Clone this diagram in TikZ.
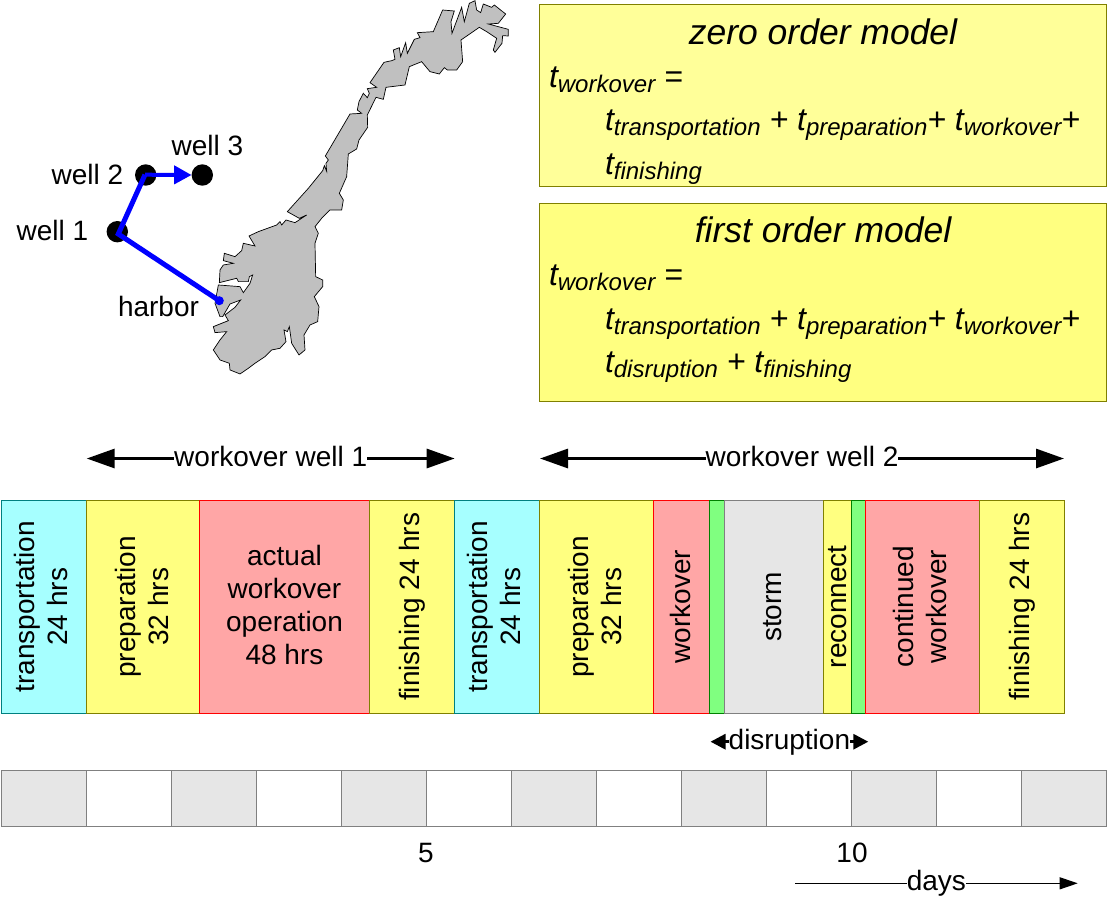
\documentclass[tikz,border=0pt]{standalone}
\usepackage{fontspec}
\setmainfont{Liberation Sans}
\usetikzlibrary{arrows.meta}

\definecolor{modeltop}{HTML}{FFFF99}
\definecolor{modellow}{HTML}{FFFF80}
\definecolor{modeledge}{HTML}{808000}
\definecolor{transfill}{HTML}{A6FFFF}
\definecolor{transedge}{HTML}{008080}
\definecolor{workfill}{HTML}{FFA6A6}
\definecolor{connfill}{HTML}{80FF80}
\definecolor{connedge}{HTML}{008000}
\definecolor{stormfill}{HTML}{E6E6E6}
\definecolor{stormedge}{HTML}{808080}
\definecolor{mapfill}{HTML}{C0C0C0}

\newcommand{\tvar}[1]{t\raisebox{-5pt}{\fontsize{24}{24}\selectfont #1}}

\begin{document}
\begin{tikzpicture}[
    x=1pt, y=-1pt,
    every node/.style={font=\fontsize{28}{33}\selectfont, inner sep=0pt, outer sep=0pt},
    welldot/.style={circle, fill=black, minimum size=21.4},
    route/.style={blue, line width=5pt, line join=miter},
    span/.style={{Triangle[length=28pt,width=19pt]}-{Triangle[length=28pt,width=19pt]}, line width=3pt},
    spanlabel/.style={fill=white, text depth=4pt},
    modelbox/.style={draw=modeledge, line width=1pt, anchor=north west},
    modeltitle/.style={font=\fontsize{35.5}{40}\selectfont\itshape, anchor=base},
    modelline/.style={font=\fontsize{32}{38}\selectfont\itshape, anchor=base west},
    phase/.style={draw, line width=1pt, rotate=90, anchor=north, minimum width=213, minimum height=#1, align=center},
    transportbox/.style={fill=transfill, draw=transedge},
    prepbox/.style={fill=modellow, draw=modeledge},
    workbox/.style={fill=workfill, draw=red},
    connectbox/.style={fill=connfill, draw=connedge},
    stormbox/.style={fill=stormfill, draw=stormedge},
    daycell/.style={draw=stormedge, line width=1pt, minimum width=85, minimum height=55.7, anchor=north west},
]
\useasboundingbox (0,0) rectangle (1107,900);

% === Map of the coast ===
\begin{scope}[shift={(280,0)}, x=0.3333pt, y=-0.3333pt]
\fill[mapfill, draw=black, line width=0.7pt]
    (22,635) -- (85,565) -- (128,512) -- (133,497) -- (140,514) -- (138,490) -- (145,480) -- (136,468)
    -- (210,342) -- (245,340) -- (232,330) -- (237,305) -- (250,280) -- (262,293) -- (268,280) -- (262,266)
    -- (290,262) -- (270,248) -- (312,187) -- (335,182) -- (345,178) -- (340,150) -- (358,143) -- (362,170)
    -- (377,128) -- (382,160) -- (403,118) -- (420,113) -- (412,98) -- (460,95) -- (488,30) -- (523,33)
    -- (513,65) -- (516,100) -- (545,22) -- (553,65) -- (568,10) -- (585,2) -- (590,30) -- (602,38)
    -- (610,12) -- (635,22) -- (643,15) -- (677,42) -- (655,70) -- (625,72) -- (685,88) -- (685,108)
    -- (668,107) -- (666,130) -- (645,157) -- (640,150) -- (650,115) -- (620,95) -- (598,82) -- (543,120)
    -- (548,185) -- (530,210) -- (502,210) -- (493,203) -- (478,222) -- (450,215) -- (425,185) -- (388,200)
    -- (375,255) -- (318,262) -- (310,298) -- (288,292) -- (262,345) -- (263,382) -- (237,420) -- (230,447)
    -- (205,462) -- (200,530) -- (178,580) -- (190,600) -- (185,630) -- (150,630) -- (125,655)
    -- (105,680) -- (115,700) -- (105,730) -- (107,830) -- (128,840) -- (128,860) -- (103,890) -- (117,920)
    -- (113,965) -- (90,975) -- (72,1005) -- (75,1050) -- (57,1065) -- (35,1030) -- (28,980) -- (22,995)
    -- (12,990) -- (18,1025) -- (0,1045) -- (-25,1050) -- (-45,1070) -- (-75,1090) -- (-95,1105) -- (-120,1122)
    -- (-150,1110) -- (-152,1090) -- (-180,1080) -- (-200,1050) -- (-180,1020) -- (-160,995) -- (-195,998)
    -- (-200,980) -- (-155,962) -- (-165,945) -- (-135,922) -- (-118,900) -- (-150,912) -- (-172,950) -- (-180,950)
    -- (-195,910) -- (-185,855) -- (-120,860) -- (-110,878) -- (-90,850) -- (-82,825) -- (-92,830) -- (-95,845)
    -- (-125,845) -- (-130,835) -- (-182,848) -- (-180,810) -- (-170,795) -- (-140,790) -- (-170,782) -- (-167,760)
    -- (-135,770) -- (-115,752) -- (-110,730) -- (-75,738) -- (-93,708) -- (-65,695) -- (-10,675) -- (0,665)
    -- (5,675) -- (18,660) -- (45,668) -- (80,645) -- (58,655) -- cycle;
\end{scope}

% === Wells and route ===
\node[welldot] (well1) at (117.3,231.7) {};
\node[welldot] (well2) at (145.7,175) {};
\node[welldot] (well3) at (202.3,175) {};
\node[circle, fill=blue, minimum size=9] (harbor) at (219.3,300.7) {};
\node (well1label) at (52.5,230) {well 1};
\node (well2label) at (87.5,174) {well 2};
\node (well3label) at (207.5,145) {well 3};
\node (harborlabel) at (158.5,306) {harbor};
\coordinate (bend1) at (118.3,234);
\coordinate (bend2) at (145,174.7);
\draw[route] (harbor.center) -- (bend1) -- (bend2);
\draw[route, -{Triangle[length=17.5pt,width=18pt]}, line width=4pt] (bend2) -- (well3.west);

% === Model boxes ===
\node[modelbox, fill=modeltop, minimum width=567.2, minimum height=181.5] (zero) at (539.3,4.5) {};
\node[modelbox, fill=modellow, minimum width=567.2, minimum height=198] (first) at (539.3,203.5) {};

\node[modeltitle] (zerotitle) at (823,44) {zero order model};
\node[modelline] (zeroa) at (549,87.3) {\tvar{workover} =};
\node[modelline] (zerob) at (605,130.7) {\tvar{transportation} + \tvar{preparation}+ \tvar{workover}+};
\node[modelline] (zeroc) at (605,174) {\tvar{finishing}};

\node[modeltitle] (firsttitle) at (823,242.5) {first order model};
\node[modelline] (firsta) at (549,285.8) {\tvar{workover} =};
\node[modelline] (firstb) at (605,329.2) {\tvar{transportation} + \tvar{preparation}+ \tvar{workover}+};
\node[modelline] (firstc) at (605,372.5) {\tvar{disruption} + \tvar{finishing}};

% === Workover spans ===
\coordinate (w1left) at (86.7,458.5);
\coordinate (w1right) at (454.7,458.5);
\coordinate (w2left) at (540,458.5);
\coordinate (w2right) at (1064,458.5);
\draw[span] (w1left) -- (w1right) node[midway, spanlabel] (w1label) {workover well 1};
\draw[span] (w2left) -- (w2right) node[midway, spanlabel] (w2label) {workover well 2};

% === Phases ===
\node[phase=85.5, transportbox, text depth=6pt] (trans1) at (1,606.8) {transportation\\24 hrs};
\node[phase=113, prepbox, text depth=2pt] (prep1) at (trans1.south) {preparation\\32 hrs};
\node[draw, line width=1pt, workbox, anchor=west, minimum width=170, minimum height=213, align=center, text depth=4pt] (act1) at (prep1.south) {actual\\workover\\operation\\48 hrs};
\node[phase=85, prepbox] (fin1) at (act1.east) {finishing 24 hrs};
\node[phase=85, transportbox, text depth=6pt] (trans2) at (fin1.south) {transportation\\24 hrs};
\node[phase=113.5, prepbox, text depth=2pt] (prep2) at (trans2.south) {preparation\\32 hrs};
\node[phase=56, workbox, text depth=2pt] (work2) at (prep2.south) {workover};
\node[phase=15, connectbox] (disc2) at (work2.south) {};
\node[phase=99.5, stormbox, text depth=2pt] (storm2) at (disc2.south) {storm};
\node[phase=28, prepbox] (recon2) at (storm2.south) {reconnect};
\node[phase=14, connectbox] (conn2) at (recon2.south) {};
\node[phase=114, workbox, text depth=6pt] (cont2) at (conn2.south) {continued\\workover};
\node[phase=85, prepbox] (fin2) at (cont2.south) {finishing 24 hrs};

% === Disruption ===
\coordinate (disleft) at (710.5,741.7);
\coordinate (disright) at (868.3,741.7);
\draw[{Triangle[length=15pt,width=15pt]}-{Triangle[length=15pt,width=15pt]}, line width=3pt] (disleft) -- (disright)
    node[midway, fill=white, yshift=-0.5pt] (dislabel) {disruption};

% === Time line ===
\foreach \i in {0,...,12} {
    \pgfmathparse{int(mod(\i,2))}
    \ifnum\pgfmathresult=0
        \node[daycell, fill=stormfill] (day\i) at ({1.3+85*\i},770.3) {};
    \else
        \node[daycell, fill=white] (day\i) at ({1.3+85*\i},770.3) {};
    \fi
}
\node (five) at (426,853) {5};
\node (ten) at (852,853) {10};

\coordinate (daysleft) at (795,883.3);
\coordinate (daysright) at (1077.7,883.3);
\draw[-{Triangle[length=18pt,width=12pt]}, line width=1pt] (daysleft) -- (daysright)
    node[midway, fill=white, text depth=6pt] (dayslabel) {days};

\end{tikzpicture}
\end{document}
